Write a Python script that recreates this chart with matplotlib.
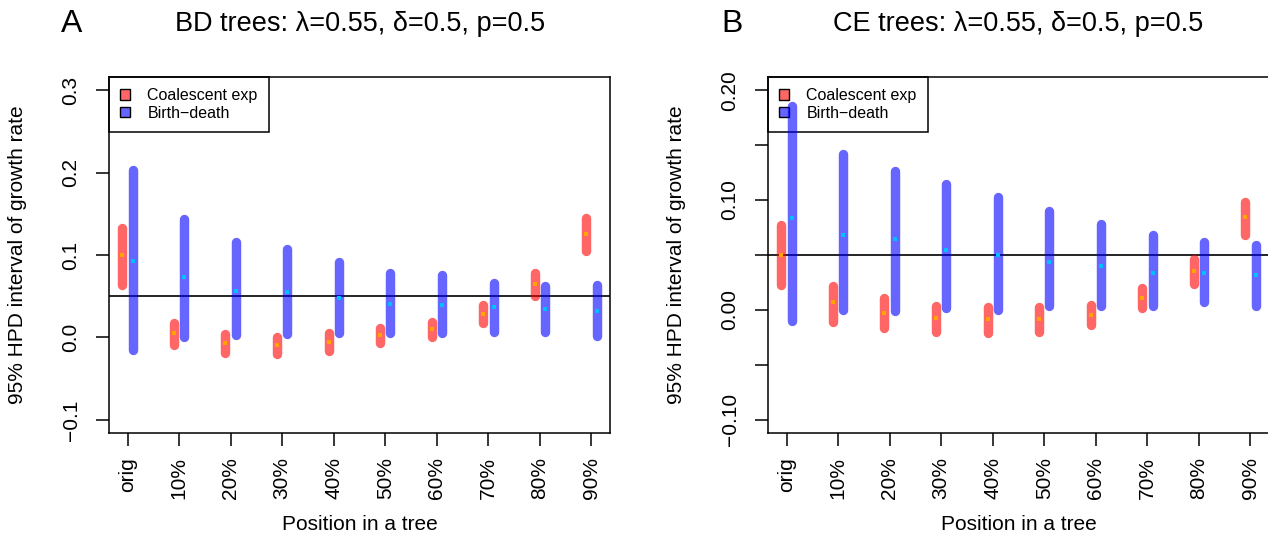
import matplotlib
matplotlib.use("Agg")
import matplotlib.pyplot as plt
from matplotlib.patches import Patch

plt.rcParams['font.family'] = ['Liberation Sans', 'DejaVu Sans']

positions = ["orig", "10%", "20%", "30%", "40%", "50%", "60%", "70%", "80%", "90%"]

# panel A: BD trees -- 95% HPD intervals (low, high) and medians
bd_coal_lo = [0.063, -0.009, -0.019, -0.020, -0.017, -0.0066, 0.0005, 0.017, 0.050, 0.105]
bd_coal_hi = [0.133, 0.018, 0.004, 0.001, 0.005, 0.0115, 0.019, 0.039, 0.078, 0.145]
bd_coal_med = [0.100, 0.005, -0.0065, -0.0095, -0.005, 0.003, 0.010, 0.029, 0.065, 0.1255]
bd_bd_lo = [-0.015, 0.0005, 0.0025, 0.0046, 0.005, 0.005, 0.005, 0.0067, 0.0067, 0.002]
bd_bd_hi = [0.2035, 0.144, 0.1155, 0.107, 0.092, 0.0776, 0.0755, 0.066, 0.0627, 0.0635]
bd_bd_med = [0.093, 0.073, 0.056, 0.0545, 0.0475, 0.041, 0.039, 0.0367, 0.035, 0.0326]

# panel B: CE trees
ce_coal_lo = [0.023, -0.0106, -0.016, -0.020, -0.0208, -0.020, -0.014, 0.0015, 0.024, 0.068]
ce_coal_hi = [0.077, 0.0214, 0.011, 0.0037, 0.0028, 0.0028, 0.0047, 0.0198, 0.046, 0.098]
ce_coal_med = [0.050, 0.007, -0.003, -0.0077, -0.0084, -0.0084, -0.0046, 0.0108, 0.0356, 0.0842]
ce_bd_lo = [-0.010, 0.0003, -0.0006, 0.0015, 0.0003, 0.004, 0.0034, 0.0034, 0.007, 0.0034]
ce_bd_hi = [0.1855, 0.1415, 0.126, 0.115, 0.1028, 0.0904, 0.078, 0.068, 0.0616, 0.0595]
ce_bd_med = [0.0836, 0.068, 0.065, 0.055, 0.050, 0.044, 0.0396, 0.034, 0.0334, 0.0319]

true_rate = 0.05

RED = (1, 0, 0, 0.6)
BLUE = (0, 0, 1, 0.6)

W, H = 1268, 534


def draw_panel(ax, coal, bd, yticks, ylabels, ylim):
    x = range(1, len(positions) + 1)
    ax.axhline(true_rate, color='black', lw=1.2, zorder=1)
    for xi, lo, hi, med in zip(x, *coal):
        ax.plot([xi - 0.1, xi - 0.1], [lo, hi], color=RED, lw=6.8,
                solid_capstyle='round', zorder=2)
        ax.plot(xi - 0.1, med, 's', color='orange', ms=2.2, mew=0, zorder=3)
    for xi, lo, hi, med in zip(x, *bd):
        ax.plot([xi + 0.1, xi + 0.1], [lo, hi], color=BLUE, lw=6.8,
                solid_capstyle='round', zorder=2)
        ax.plot(xi + 0.1, med, 's', color='deepskyblue', ms=2.2, mew=0, zorder=3)

    ax.set_xlim(0.64, 10.36)
    ax.set_ylim(*ylim)
    ax.set_xticks(list(x))
    ax.set_xticklabels(positions, rotation=90, fontsize=15)
    ax.set_yticks(yticks)
    ax.set_yticklabels(ylabels, fontsize=15)
    for lab in ax.get_yticklabels():
        lab.set_rotation(90)
        lab.set_va('center')
    ax.tick_params(direction='out', length=9.5, width=1.1)
    ax.tick_params(axis='x', pad=8)
    ax.tick_params(axis='y', pad=11)
    for s in ax.spines.values():
        s.set_linewidth(1.1)

    ax.set_xlabel("Position in a tree", fontsize=15, labelpad=11)
    ax.set_ylabel("95% HPD interval of growth rate", fontsize=15, labelpad=25)

    handles = [Patch(facecolor=RED, edgecolor='black', lw=1.0),
               Patch(facecolor=BLUE, edgecolor='black', lw=1.0)]
    leg = ax.legend(handles, ["Coalescent exp", "Birth\u2212death"], loc='upper left',
                    fontsize=11.5, frameon=True, fancybox=False, framealpha=1,
                    edgecolor='black', borderaxespad=0, borderpad=0.7,
                    handlelength=0.6, handleheight=0.6, handletextpad=1.1,
                    labelspacing=0.15)
    leg.get_frame().set_linewidth(1.1)
    # bars are drawn over the legend box, as in the original
    leg.set_zorder(1.5)
    return ax


fig = plt.figure(figsize=(W / 100, H / 100), dpi=100)
ax1 = fig.add_axes([109 / W, 101 / H, 501 / W, 356 / H])
ax2 = fig.add_axes([768 / W, 101 / H, 501 / W, 356 / H])

draw_panel(ax1, (bd_coal_lo, bd_coal_hi, bd_coal_med), (bd_bd_lo, bd_bd_hi, bd_bd_med),
           [-0.1, 0.0, 0.1, 0.2, 0.3], ["\u22120.1", "0.0", "0.1", "0.2", "0.3"],
           (-0.116, 0.316))
draw_panel(ax2, (ce_coal_lo, ce_coal_hi, ce_coal_med), (ce_bd_lo, ce_bd_hi, ce_bd_med),
           [-0.1, -0.05, 0.0, 0.05, 0.1, 0.15, 0.2],
           ["\u22120.10", "", "0.00", "", "0.10", "", "0.20"],
           (-0.112, 0.212))

fig.text(360 / W, 1 - 24 / H, "BD trees: \u03bb=0.55, \u03b4=0.5, p=0.5",
         fontsize=19.5, ha='center', va='center')
fig.text(1018 / W, 1 - 24 / H, "CE trees: \u03bb=0.55, \u03b4=0.5, p=0.5",
         fontsize=19.5, ha='center', va='center')
fig.text(61 / W, 1 - 24 / H, "A", fontsize=23, va='center', ha='left')
fig.text(721 / W, 1 - 24 / H, "B", fontsize=23, va='center', ha='left')

fig.savefig("out.png", dpi=100)
